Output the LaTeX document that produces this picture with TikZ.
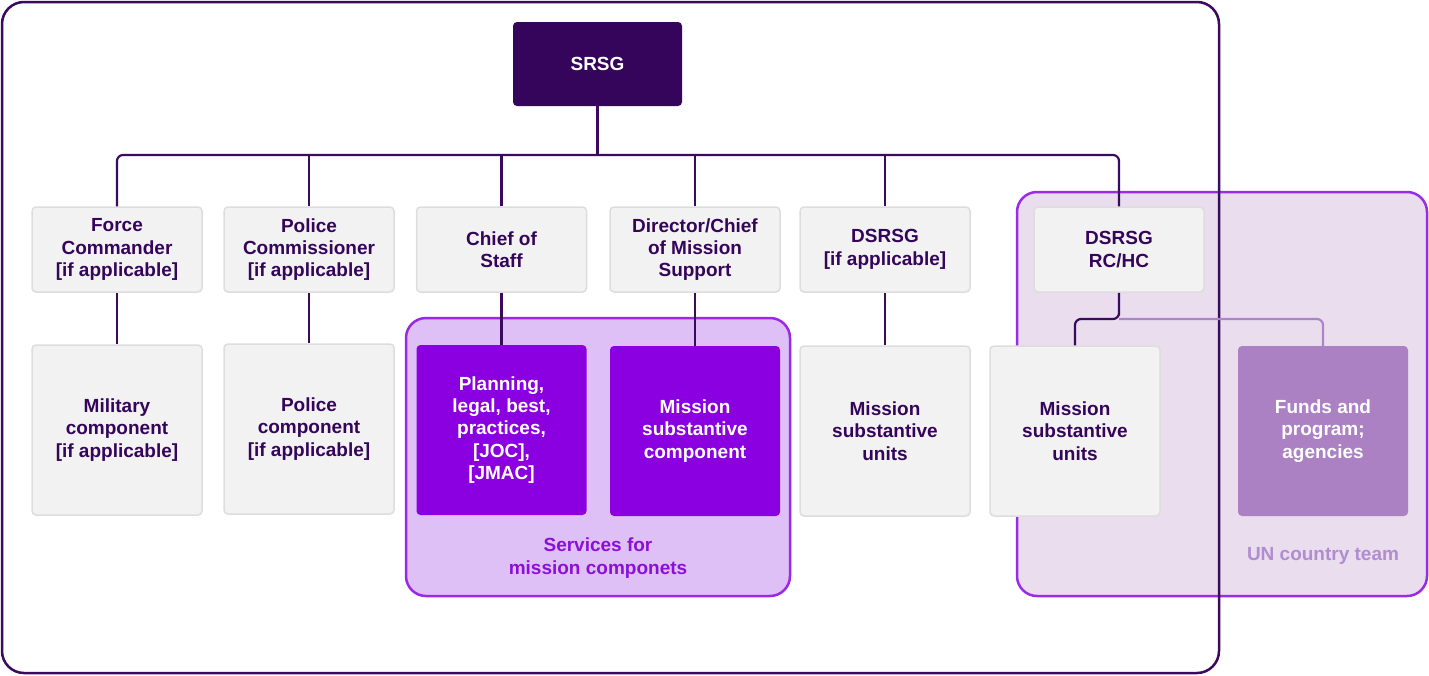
\documentclass[tikz,border=0pt]{standalone}
\usepackage{fontspec}
\setmainfont{Liberation Sans}
\definecolor{dk}{HTML}{34055A}
\definecolor{ln}{HTML}{3A0A5E}
\definecolor{gfill}{HTML}{F2F2F2}
\definecolor{gline}{HTML}{DDDDDD}
\definecolor{vio}{HTML}{8A00E0}
\definecolor{svfill}{HTML}{DFC0F6}
\definecolor{svline}{HTML}{9A28E6}
\definecolor{unfill}{HTML}{E9DDEE}
\definecolor{unline}{HTML}{9A2CE8}
\definecolor{funds}{HTML}{AB81C4}
\definecolor{unlab}{HTML}{B08CD0}
\definecolor{lconn}{HTML}{AB84C9}
\definecolor{svlab}{HTML}{8A10D8}
\tikzset{
  txt/.style={font=\fontsize{19}{22.4}\selectfont\bfseries, align=center},
  box/.style={txt, rectangle, rounded corners=4pt, minimum width=170pt, inner sep=0pt},
  graybox/.style={box, fill=gfill, draw=gline, line width=1.5pt, text=dk},
  viobox/.style={box, fill=vio, text=white},
  fundbox/.style={box, fill=funds, text=white},
  topbox/.style={box, fill=dk, text=white, minimum width=169pt, minimum height=84pt},
  rowone/.style={minimum height=85pt},
  rowtwo/.style={minimum height=170pt},
  conn/.style={draw=ln, line width=2.2pt, rounded corners=6pt},
  lightconn/.style={draw=lconn, line width=2.2pt, rounded corners=6pt},
  grp/.style={rounded corners=20pt, line width=2.5pt},
  frame/.style={draw=ln, line width=2.5pt, rounded corners=22pt},
}
\begin{document}
\begin{tikzpicture}[x=1pt,y=-1pt]
\useasboundingbox (0,0) rectangle (1429,675);
% UN country team group
\path[grp, fill=unfill, draw=unline] (1017,192) rectangle (1427,596);
\node[txt, text=unlab] (unlabel) at (1323,556) {UN country team};
% outer frame
\path[frame] (2,2) rectangle (1219,673);
% services group
\path[grp, fill=svfill, draw=svline] (406,318) rectangle (790,596);
\node[txt, text=svlab] (svlabel) at (598,558) {Services for\\mission componets};
% nodes
\node[topbox] (srsg) at (597.5,64) {SRSG};
\node[graybox, rowone] (fc) at (117,249.5) {Force\\Commander\\{}[if applicable]};
\node[graybox, rowone] (pc) at (309,249.5) {Police\\Commissioner\\{}[if applicable]};
\node[graybox, rowone] (cos) at (501.5,249.5) {Chief of\\Staff};
\node[graybox, rowone] (dms) at (695,249.5) {Director/Chief\\of Mission\\Support};
\node[graybox, rowone] (dsrsg) at (885,249.5) {DSRSG\\{}[if applicable]};
\node[graybox, rowone] (rchc) at (1119,249.5) {DSRSG\\RC/HC};
\node[graybox, rowtwo] (mil) at (117,430) {Military\\component\\{}[if applicable]};
\node[graybox, rowtwo] (pol) at (309,429) {Police\\component\\{}[if applicable]};
\node[viobox, rowtwo] (plan) at (501.5,430) {Planning,\\legal, best,\\practices,\\{}[JOC],\\{}[JMAC]};
\node[viobox, rowtwo] (msc) at (695,431) {Mission\\substantive\\component};
\node[graybox, rowtwo] (msu) at (885,431) {Mission\\substantive\\units};
\node[graybox, rowtwo] (msu2) at (1075,431) {Mission\\substantive\\units};
\node[fundbox, rowtwo] (fund) at (1323,431) {Funds and\\program;\\agencies};
% connectors
\coordinate (bus) at (597.5,155);
\coordinate (split) at (1119,319);
\draw[conn] (srsg.south) -- (bus);
\draw[conn] (fc.north) |- (bus) -| (rchc.north);
\draw[conn] (pc.north) -- (pc.north |- bus);
\draw[conn] (cos.north) -- (cos.north |- bus);
\draw[conn] (dms.north) -- (dms.north |- bus);
\draw[conn] (dsrsg.north) -- (dsrsg.north |- bus);
\draw[conn] (fc.south) -- (mil.north);
\draw[conn] (pc.south) -- (pol.north);
\draw[conn] (cos.south) -- (plan.north);
\draw[conn] (dms.south) -- (msc.north);
\draw[conn] (dsrsg.south) -- (msu.north);
\draw[lightconn] (split) -| (fund.north);
\draw[conn] (rchc.south) |- (split) -| (msu2.north);
\end{tikzpicture}
\end{document}
